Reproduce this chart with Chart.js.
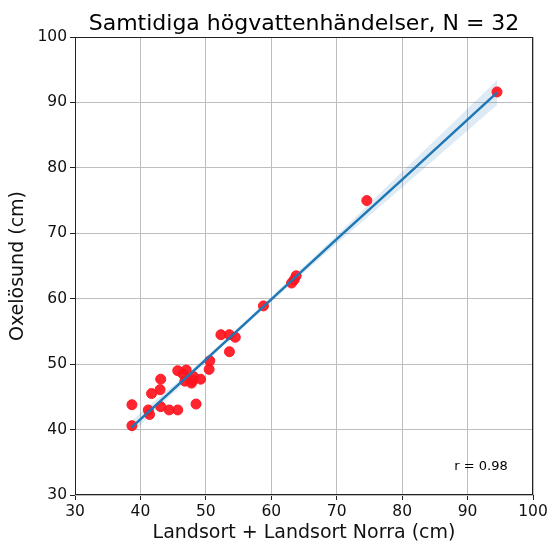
<!DOCTYPE html>
<html>
<head>
<meta charset="utf-8">
<script src="https://cdn.jsdelivr.net/npm/chart.js@4/dist/chart.umd.min.js"></script>
<style>
    html, body { margin: 0; padding: 0; background: #fff; }
    #wrap { width: 551px; height: 544px; }
</style>
</head>
<body>
<div id="wrap"><canvas id="scatterChart"></canvas></div>
<script>
const landsortX = [38.7, 38.7, 41.2, 41.4, 41.7, 43.0, 43.1, 43.1, 44.4, 45.7, 45.7, 47.0, 46.8, 47.8, 48.1, 48.5,
                   49.2, 47.6, 50.5, 50.6, 52.3, 53.6, 54.5, 53.6, 58.8, 63.5, 63.8, 63.1, 74.6, 94.5, 46.5, 48.0];
const oxelosundY = [40.6, 43.8, 43.0, 42.3, 45.5, 46.1, 47.7, 43.5, 43.0, 43.0, 49.0, 49.1, 47.4, 47.1, 48.1, 43.9,
                    47.7, 47.6, 49.2, 50.5, 54.5, 54.5, 54.1, 51.9, 58.9, 62.9, 63.5, 62.4, 75.0, 91.6, 48.5, 47.5];

// Regression line and its confidence band
const fitX = [38.6, 50, 60, 70, 80, 94.5];
const fitY = [40.3, 50.7, 59.9, 69.1, 78.2, 91.5];
const bandUpper = [41.3, 51.1, 60.3, 69.7, 79.4, 93.4];
const bandLower = [39.3, 50.3, 59.5, 68.4, 77.0, 89.6];

const xTicks = [30, 40, 50, 60, 70, 80, 90, 100];
const yTicks = [30, 40, 50, 60, 70, 80, 90, 100];

const titleText = 'Samtidiga högvattenhändelser, N = 32';
const rText = 'r = 0.98';

const FONT = "'DejaVu Sans', sans-serif";

const toPoints = (xs, ys) => xs.map((x, i) => ({ x: x, y: ys[i] }));

// Frame, title and r label
const decorPlugin = {
    id: 'decor',
    afterDraw(chart) {
        const ctx = chart.ctx;
        const a = chart.chartArea;
        ctx.save();
        ctx.strokeStyle = '#222';
        ctx.lineWidth = 1;
        ctx.strokeRect(a.left + 0.5, a.top + 0.5, a.right - a.left - 1, a.bottom - a.top - 1);

        ctx.fillStyle = '#000';
        ctx.font = '22px ' + FONT;
        ctx.textAlign = 'center';
        ctx.textBaseline = 'alphabetic';
        ctx.fillText(titleText, (a.left + a.right) / 2 + 0, 30);

        ctx.font = '13px ' + FONT;
        ctx.fillText(rText, a.right - 52, a.bottom - 25);
        ctx.restore();
    }
};

const ctx = document.getElementById('scatterChart').getContext('2d');
new Chart(ctx, {
    type: 'scatter',
    data: {
        datasets: [
            {
                label: 'fit',
                type: 'line',
                data: toPoints(fitX, fitY),
                borderColor: '#1f77b4',
                borderWidth: 2.5,
                pointRadius: 0,
                fill: false,
                order: 0
            },
            {
                label: 'obs',
                data: toPoints(landsortX, oxelosundY),
                backgroundColor: 'rgba(255, 20, 30, 0.92)',
                borderColor: 'rgba(255, 20, 30, 0.92)',
                pointRadius: 5,
                order: 1
            },
            {
                label: 'upper',
                type: 'line',
                data: toPoints(fitX, bandUpper),
                borderWidth: 0,
                borderColor: 'rgba(0,0,0,0)',
                backgroundColor: 'rgba(31, 119, 180, 0.15)',
                pointRadius: 0,
                tension: 0.4,
                fill: '+1',
                order: 2
            },
            {
                label: 'lower',
                type: 'line',
                data: toPoints(fitX, bandLower),
                borderWidth: 0,
                borderColor: 'rgba(0,0,0,0)',
                pointRadius: 0,
                tension: 0.4,
                fill: false,
                order: 3
            }
        ]
    },
    options: {
        responsive: true,
        maintainAspectRatio: false,
        animation: false,
        layout: { padding: { top: 37, right: 18, left: 0, bottom: 0 } },
        plugins: {
            legend: { display: false },
            tooltip: { enabled: false },
            title: { display: false }
        },
        scales: {
            x: {
                type: 'linear',
                min: 30,
                max: 100,
                afterBuildTicks: (scale) => { scale.ticks = xTicks.map(v => ({ value: v })); },
                afterFit: (scale) => { scale.height = 49; },
                grid: { color: '#bdbdbd', tickColor: '#222', tickLength: 5 },
                border: { display: false },
                ticks: { color: '#111', font: { family: FONT, size: 15.5 }, padding: 3, maxRotation: 0 },
                title: {
                    display: true,
                    text: 'Landsort + Landsort Norra (cm)',
                    color: '#111',
                    font: { family: FONT, size: 19 },
                    padding: { top: 0, bottom: 0 }
                }
            },
            y: {
                type: 'linear',
                min: 30,
                max: 100,
                afterBuildTicks: (scale) => { scale.ticks = yTicks.map(v => ({ value: v })); },
                afterFit: (scale) => { scale.width = 75; },
                grid: { color: '#bdbdbd', tickColor: '#222', tickLength: 5 },
                border: { display: false },
                ticks: { color: '#111', font: { family: FONT, size: 15.5 }, padding: 3 },
                title: {
                    display: true,
                    text: 'Oxelösund (cm)',
                    color: '#111',
                    font: { family: FONT, size: 19 },
                    padding: { top: 7, bottom: 0 }
                }
            }
        }
    },
    plugins: [decorPlugin]
});
</script>
</body>
</html>
